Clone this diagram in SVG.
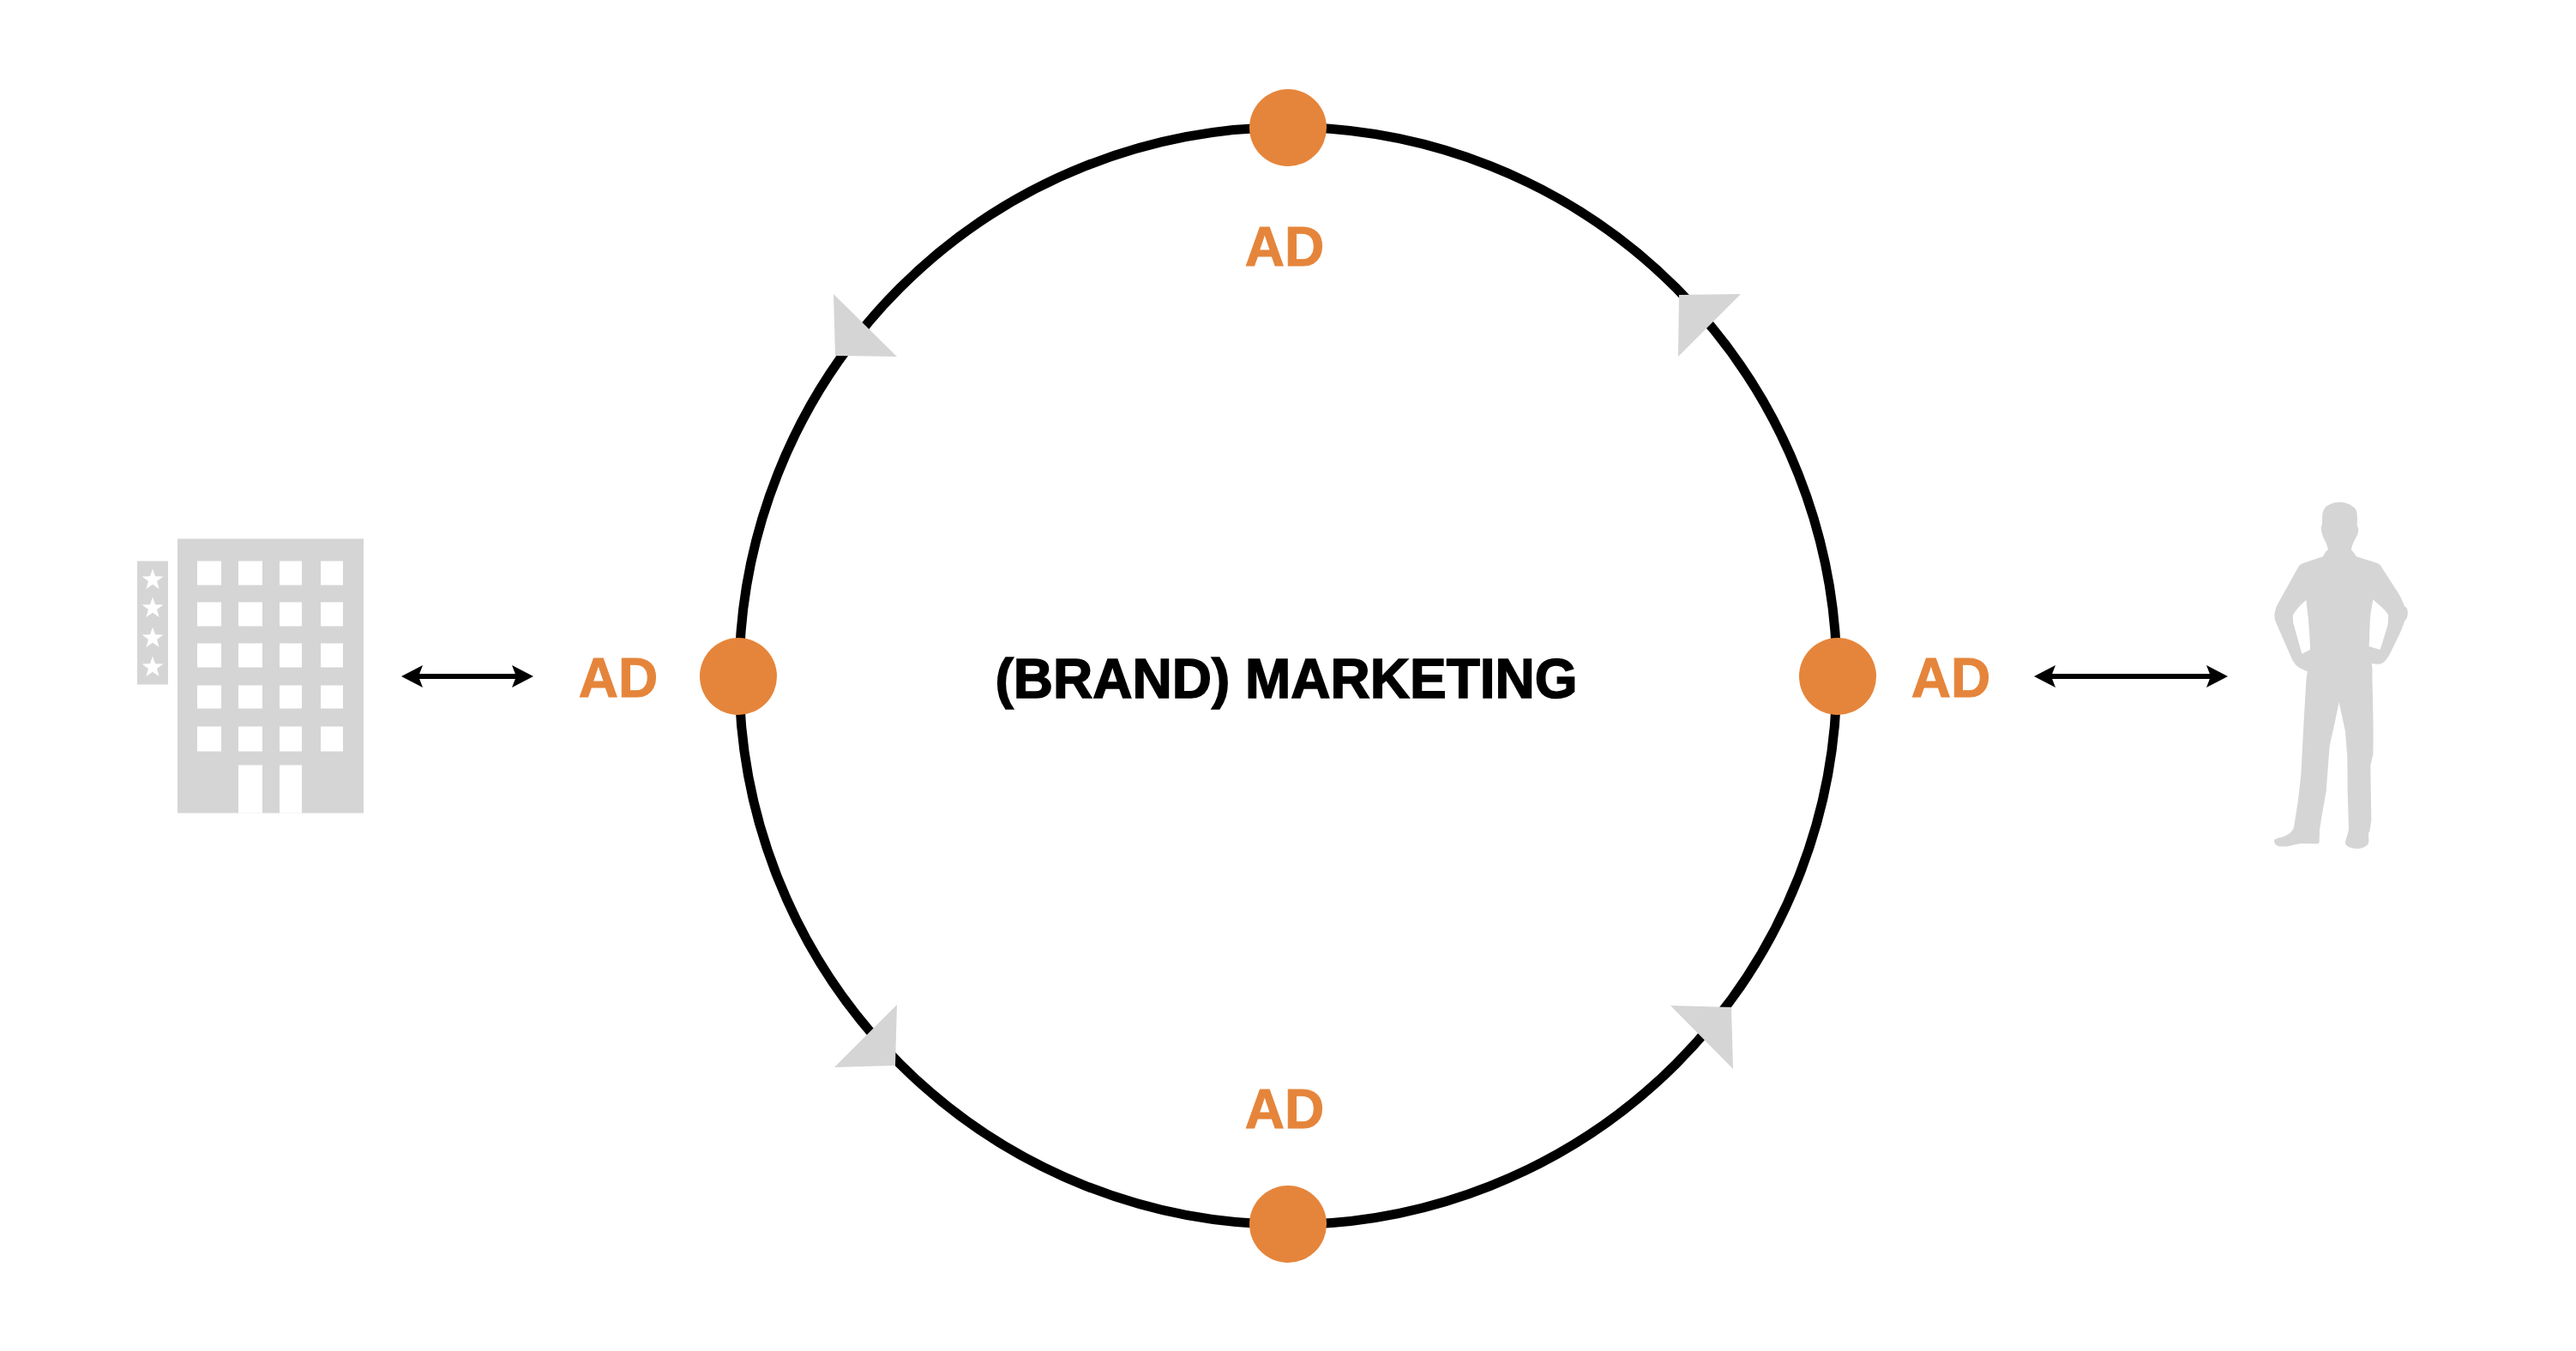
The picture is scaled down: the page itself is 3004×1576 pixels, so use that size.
<svg xmlns="http://www.w3.org/2000/svg" width="3004" height="1576" viewBox="0 0 3004 1576">
<style>
.ring{fill:none;stroke:#000;stroke-width:11}
.dot{fill:#E5853B}
.tri,.sil{fill:#D5D5D5}
.win{fill:#fff}
.ad{font:bold 64px "Liberation Sans",Arial,sans-serif;fill:#E5853B;stroke:#E5853B;stroke-width:1}
.title{font:bold 64px "Liberation Sans",Arial,sans-serif;fill:#000;stroke:#000;stroke-width:1.5}
.arr{stroke:#000;stroke-width:6;fill:none}
.hd{fill:#000}
</style>
<defs>
<polygon id="star" points="0,-13 3.1,-4.2 12.4,-4 5,1.6 7.6,10.5 0,5.2 -7.6,10.5 -5,1.6 -12.4,-4 -3.1,-4.2"/>
</defs>
<rect width="3004" height="1576" fill="#fff"/>
<g id="connectors">
<circle class="ring" cx="1502" cy="788.5" r="640"/>
<polygon class="tri" points="1958,344 2030,343 1957,416"/>
<polygon class="tri" points="972,343 974,415 1046,416"/>
<polygon class="tri" points="1948,1173 2019,1175 2021,1247"/>
<polygon class="tri" points="1046,1172 1044,1243 973,1245"/>
<path class="arr" d="M485,789H605"/>
<polygon class="hd" points="468,789 493,776 488,789 493,802"/>
<polygon class="hd" points="622,789 597,776 602,789 597,802"/>
<path class="arr" d="M2389,789H2581"/>
<polygon class="hd" points="2372,789 2397,776 2392,789 2397,802"/>
<polygon class="hd" points="2598,789 2573,776 2578,789 2573,802"/>
</g>
<g id="node-top"><circle class="dot" cx="1502" cy="149" r="45"/><text class="ad" x="1498" y="310" text-anchor="middle">AD</text></g>
<g id="node-bottom"><circle class="dot" cx="1502" cy="1428" r="45"/><text class="ad" x="1498" y="1316" text-anchor="middle">AD</text></g>
<g id="node-left"><circle class="dot" cx="861" cy="789" r="45"/><text class="ad" x="721" y="813" text-anchor="middle">AD</text></g>
<g id="node-right"><circle class="dot" cx="2143" cy="789" r="45"/><text class="ad" x="2275" y="813" text-anchor="middle">AD</text></g>
<g id="node-center"><text class="title" x="1500" y="814" text-anchor="middle">(BRAND) MARKETING</text></g>
<g id="node-hotel">
<rect class="sil" x="207" y="628.5" width="217" height="320"/>
<rect class="sil" x="160" y="654.5" width="36" height="144"/>
<g class="win" transform="translate(0,0.5)">
<rect x="230" y="654" width="28" height="28"/><rect x="278" y="654" width="28" height="28"/><rect x="326" y="654" width="26" height="28"/><rect x="374" y="654" width="26" height="28"/>
<rect x="230" y="702" width="28" height="28"/><rect x="278" y="702" width="28" height="28"/><rect x="326" y="702" width="26" height="28"/><rect x="374" y="702" width="26" height="28"/>
<rect x="230" y="750" width="28" height="28"/><rect x="278" y="750" width="28" height="28"/><rect x="326" y="750" width="26" height="28"/><rect x="374" y="750" width="26" height="28"/>
<rect x="230" y="799" width="28" height="27"/><rect x="278" y="799" width="28" height="27"/><rect x="326" y="799" width="26" height="27"/><rect x="374" y="799" width="26" height="27"/>
<rect x="230" y="847" width="28" height="29"/><rect x="278" y="847" width="28" height="29"/><rect x="326" y="847" width="26" height="29"/><rect x="374" y="847" width="26" height="29"/>
<rect x="278" y="892" width="28" height="56"/><rect x="326" y="892" width="26" height="56"/>
<use href="#star" x="178" y="676"/><use href="#star" x="178" y="709"/><use href="#star" x="178" y="744"/><use href="#star" x="178" y="778"/>
</g>
</g>
<g id="node-person">
<path class="sil" fill-rule="evenodd" transform="translate(2620,570) scale(0.3333)" d="M325,47C350,47 375,60 383,75C388,90 387,115 386,130C392,135 392,150 388,160C384,170 377,180 372,192C368,202 366,208 366,215C372,218 378,228 384,238L455,260C465,263 470,270 475,280L530,365C540,380 548,400 552,412C560,415 565,425 563,440C562,452 558,458 553,462C545,490 525,530 505,570C495,590 485,608 470,613C458,616 448,614 437,612C440,625 440,640 439,660C442,760 444,850 442,930L433,970L436,1160L430,1200L426,1205L427,1235C427,1250 405,1260 385,1260C365,1260 345,1252 345,1240C345,1230 352,1220 357,1190L353,1060L352,940L345,850L323,748L310,810L290,900L278,1060L262,1150L255,1195L254,1235C254,1240 250,1243 245,1243L190,1242C165,1245 150,1253 130,1253C110,1253 96,1250 96,1230C105,1222 120,1222 135,1215C150,1208 160,1200 165,1185L180,1090L190,1000L200,810L209,660L213,640C200,635 185,628 175,620C168,612 165,608 160,600L105,475C98,460 96,445 98,435C100,425 102,418 105,410L180,275C185,268 190,264 195,262L267,238C270,232 275,220 285,213C283,205 280,197 278,190C273,180 268,172 265,162C262,150 260,142 260,135L264,125C264,110 264,100 265,90C267,78 270,72 275,65C285,57 300,47 325,47Z M208,390C190,405 175,420 163,440C160,450 162,460 163,470L193,578L222,563C222,530 218,490 215,450Z M442,388C460,405 480,420 495,440C496,455 495,465 493,480L467,563C455,562 440,555 428,552C430,510 430,475 433,440Z"/>
</g>
</svg>
